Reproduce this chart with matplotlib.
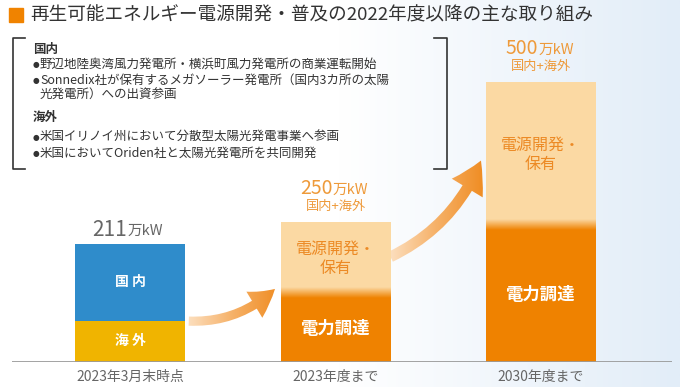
import numpy as np
import matplotlib
matplotlib.use('Agg')
import matplotlib.pyplot as plt
from matplotlib.patches import FancyArrowPatch, Rectangle
from matplotlib.colors import LinearSegmentedColormap

plt.rcParams['font.family'] = ['Noto Sans CJK JP', 'DejaVu Sans']

# data (万kW)
categories = ['2023年3月末時点', '2023年度まで', '2030年度まで']
domestic_2023 = 137   # 国内
overseas_2023 = 74    # 海外
procure = [118, 240]  # 電力調達 (2023年度まで, 2030年度まで)
develop = [132, 260]  # 電源開発・保有
totals = [211, 250, 500]

title = '再生可能エネルギー電源開発・普及の2022年度以降の主な取り組み'
# (text, kind) kind: h = heading, b = bullet, c = continuation
box_lines = [
    ('国内', 'h'),
    ('野辺地陸奥湾風力発電所・横浜町風力発電所の商業運転開始', 'b'),
    ('Sonnedix社が保有するメガソーラー発電所（国内3カ所の太陽', 'b'),
    ('光発電所）への出資参画', 'c'),
    ('海外', 'h'),
    ('米国イリノイ州において分散型太陽光発電事業へ参画', 'b'),
    ('米国においてOriden社と太陽光発電所を共同開発', 'b'),
]
box_y = [49, 64, 80, 95, 117, 137, 153]

BLUE = '#2f8ccb'
GOLD = '#f0b400'
DARK = '#ef8200'
LIGHT = '#fbd9a3'
ORANGE_TXT = '#ec8a25'
GRAY = '#666666'

fig = plt.figure(figsize=(6.8, 3.87), dpi=100)

# background / overlay in pixel coords
bg = fig.add_axes([0, 0, 1, 1])
grad = np.linspace(0, 1, 256).reshape(1, -1)
bg_cmap = LinearSegmentedColormap.from_list('bg', ['#ffffff', '#ffffff', '#e2edf8'])
bg.imshow(grad, extent=(0, 680, 387, 0), cmap=bg_cmap, aspect='auto', zorder=0)
bg.set_xlim(0, 680)
bg.set_ylim(387, 0)
bg.axis('off')

# title
bg.add_patch(Rectangle((9, 8), 14, 14, color='#f08300', zorder=2))
bg.text(30, 15, title, fontsize=13.4, color='#333333', va='center', ha='left')

# bracket box
bg.plot([25, 13, 13, 25], [38, 38, 169, 169], color='#333333', lw=1.2)
bg.plot([434, 447, 447, 434], [38, 38, 169, 169], color='#333333', lw=1.2)
for (txt, kind), y in zip(box_lines, box_y):
    if kind == 'h':
        bg.text(33, y, txt, fontsize=9, color='#333333', va='center', ha='left',
                fontweight='bold')
        continue
    if kind == 'b':
        bg.text(33, y + 0.5, '●', fontsize=5.5, color='#333333', va='center', ha='left',
                family='DejaVu Sans')
    bg.text(40, y, txt, fontsize=9, color='#333333', va='center', ha='left')

# arrows with gradient fill
arrow_cmap = LinearSegmentedColormap.from_list('arr', ['#fde6cc', '#f6b26a', '#ef8a1e'])
for (a, b, rad, ms) in [((186, 321), (277, 287), 0.22, 11), ((388, 258), (482, 158), 0.2, 13)]:
    arr = FancyArrowPatch(a, b, arrowstyle='simple,head_length=1.7,head_width=2.0,tail_width=0.6',
                          connectionstyle=f'arc3,rad={rad}', mutation_scale=ms,
                          facecolor='none', edgecolor='none', zorder=3)
    bg.add_patch(arr)
    im = bg.imshow(grad, extent=(a[0] - 5, b[0] + 5, a[1] + 20, b[1] - 20),
                   cmap=arrow_cmap, aspect='auto', zorder=3)
    im.set_clip_path(arr)
bg.set_xlim(0, 680)
bg.set_ylim(387, 0)

# bar axes: baseline at y=362 px, 0.56 px per 万kW
ax = fig.add_axes([12 / 680, 25 / 387, 660 / 680, 336 / 387])
ax.patch.set_alpha(0)
w = 0.535
ax.bar(0, overseas_2023, w, color=GOLD, zorder=2)
ax.bar(0, domestic_2023, w, bottom=overseas_2023, color=BLUE, zorder=2)
ax.bar([1, 2], procure, w, color=DARK, zorder=2)
ax.bar([1, 2], develop, w, bottom=procure, color=LIGHT, zorder=2)

tcmap = LinearSegmentedColormap.from_list('t', [DARK, LIGHT])
tg = np.linspace(0, 1, 64).reshape(-1, 1)
for i, p in zip([1, 2], procure):
    ax.imshow(tg, extent=(i - w / 2, i + w / 2, p - 4, p + 14), cmap=tcmap,
              origin='lower', aspect='auto', zorder=3)

ax.set_xlim(-0.574, 2.637)
ax.set_ylim(0, 600)
ax.set_aspect('auto')
ax.axhline(0, color='#9a9a9a', lw=2, zorder=4)

# in-bar labels
ax.text(0, overseas_2023 / 2, '海 外', color='white', fontsize=10, fontweight='bold',
        ha='center', va='center', zorder=5)
ax.text(0, overseas_2023 + domestic_2023 / 2, '国 内', color='white', fontsize=10,
        fontweight='bold', ha='center', va='center', zorder=5)
for i, p, d in zip([1, 2], procure, develop):
    ax.text(i, p / 2, '電力調達', color='white', fontsize=12.5, fontweight='bold',
            ha='center', va='center', zorder=5)
    ax.text(i, p + d / 2, '電源開発・\n保有', color=ORANGE_TXT, fontsize=11.5,
            ha='center', va='center', linespacing=1.15, zorder=5)

# totals
for i, t in enumerate(totals):
    col = GRAY if i == 0 else '#ee9a3a'
    up = 10 if i == 0 else 24
    ax.annotate(f'{t}', xy=(i, t), xytext=(-2, up), textcoords='offset points',
                ha='right', va='center', fontsize=15 if i == 0 else 14, color=col)
    ax.annotate('万kW', xy=(i, t), xytext=(-2, up - 1), textcoords='offset points',
                ha='left', va='center', fontsize=10.5, color=col)
    if i > 0:
        ax.annotate('国内+海外', xy=(i, t), xytext=(0, 11), textcoords='offset points',
                    ha='center', va='center', fontsize=9.5, color='#ee9a3a')

ax.set_xticks(range(len(categories)))
ax.set_xticklabels(categories, fontsize=10, color=GRAY)
ax.tick_params(axis='x', length=0, pad=6)
ax.set_yticks([])
for s in ax.spines.values():
    s.set_visible(False)

fig.savefig('out.png', dpi=100)
